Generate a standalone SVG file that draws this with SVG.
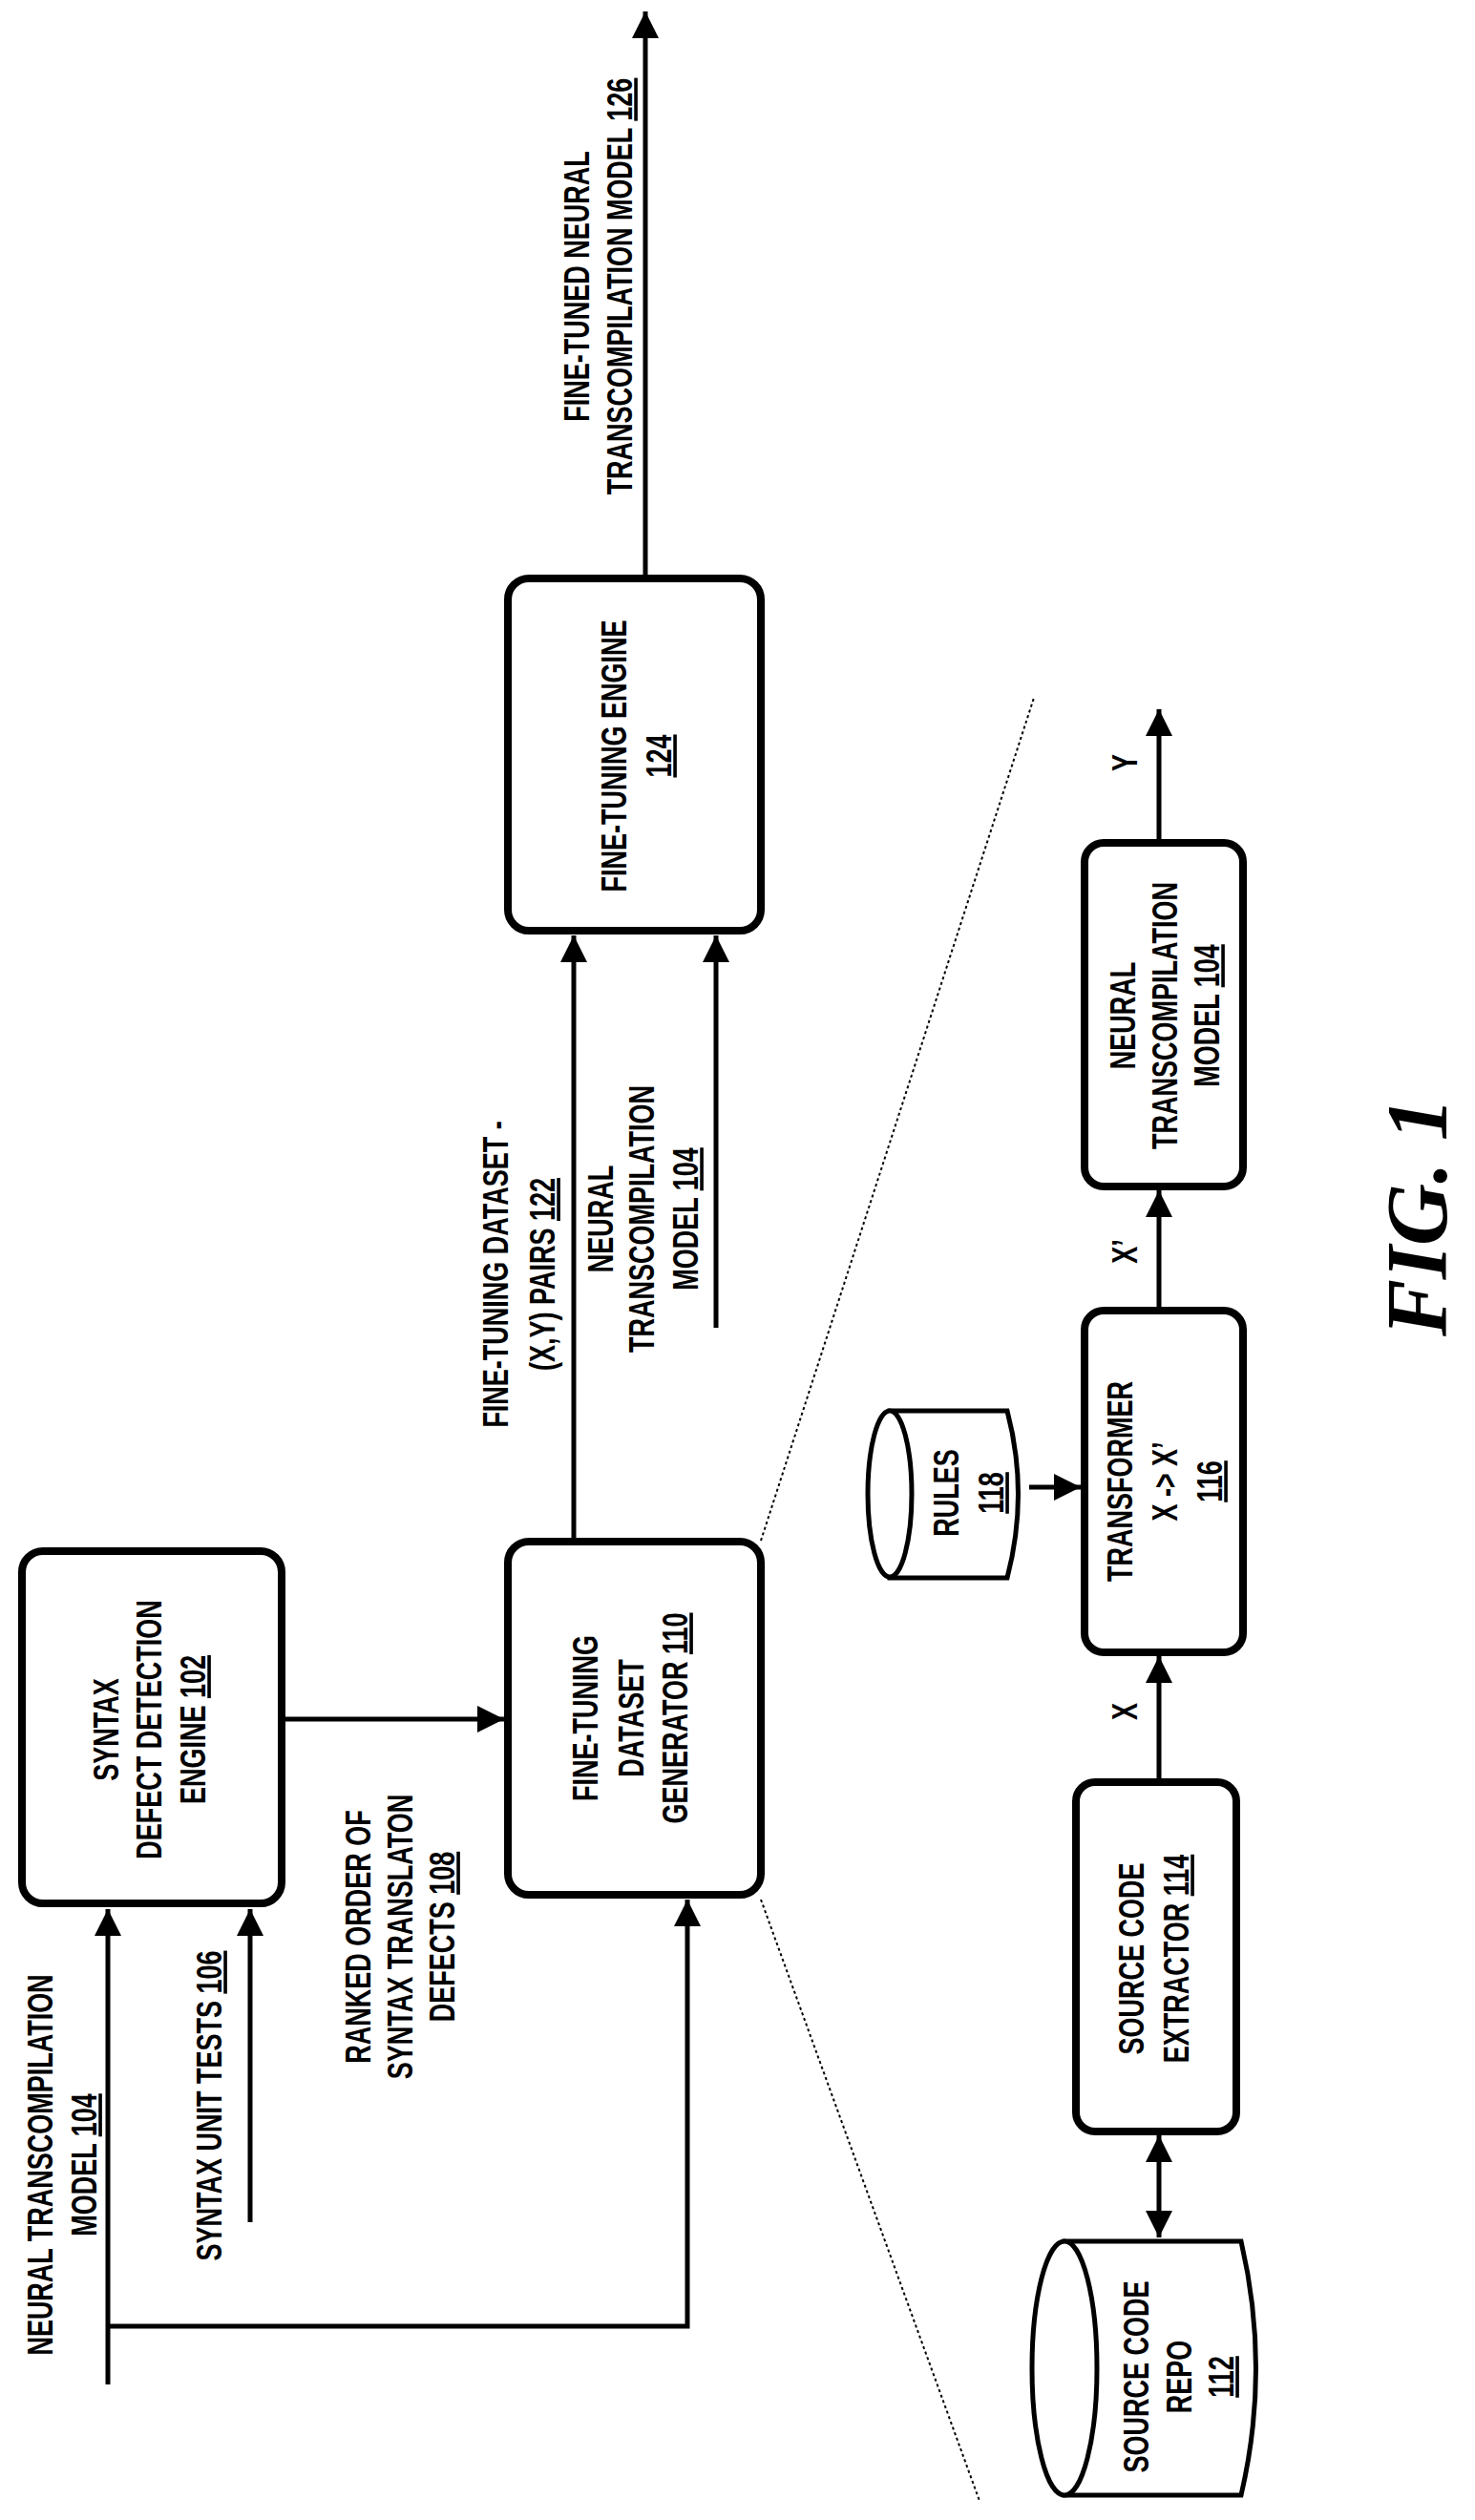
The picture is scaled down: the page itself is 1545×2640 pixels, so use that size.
<svg xmlns="http://www.w3.org/2000/svg" width="1545" height="2640" viewBox="0 0 1545 2640">
<defs>
<style>
.t{font-family:"Liberation Sans",Arial,sans-serif;font-weight:bold;font-size:36px;fill:#000;text-anchor:middle}
.u{text-decoration:underline}
.box{fill:#fff;stroke:#000;stroke-width:8}
.ln{fill:none;stroke:#000;stroke-width:5}
.dot{fill:none;stroke:#000;stroke-width:2;stroke-dasharray:3 3}
.fig{font-family:"Liberation Serif",serif;font-style:italic;font-weight:bold;font-size:90px;text-anchor:middle}
</style>
<marker id="ah" viewBox="0 0 10 10" refX="10" refY="5" markerWidth="30" markerHeight="28" markerUnits="userSpaceOnUse" orient="auto-start-reverse"><path d="M0,0L10,5L0,10z" fill="#000"/></marker>
</defs>
<g id="connectors">
<line class="ln" x1="113" y1="2498" x2="113" y2="2000" marker-end="url(#ah)"/>
<polyline class="ln" points="113,2437 720,2437 720,1990" marker-end="url(#ah)"/>
<line class="ln" x1="262" y1="2328" x2="262" y2="2000" marker-end="url(#ah)"/>
<line class="ln" x1="299" y1="1801" x2="528" y2="1801" marker-end="url(#ah)"/>
<line class="ln" x1="601" y1="1615" x2="601" y2="980" marker-end="url(#ah)"/>
<line class="ln" x1="750" y1="1391" x2="750" y2="980" marker-end="url(#ah)"/>
<line class="ln" x1="676" y1="606" x2="676" y2="12" marker-end="url(#ah)"/>
<line class="dot" x1="797" y1="1614" x2="1083" y2="731"/>
<line class="dot" x1="797" y1="1990" x2="1026" y2="2620"/>
<line class="ln" x1="1214" y1="2344" x2="1214" y2="2237" marker-start="url(#ah)" marker-end="url(#ah)"/>
<line class="ln" x1="1214" y1="1867" x2="1214" y2="1735" marker-end="url(#ah)"/>
<line class="ln" x1="1214" y1="1373" x2="1214" y2="1247" marker-end="url(#ah)"/>
<line class="ln" x1="1214" y1="883" x2="1214" y2="743" marker-end="url(#ah)"/>
<line class="ln" x1="1078" y1="1558" x2="1132" y2="1558" marker-end="url(#ah)"/>
</g>
<g id="n102"><rect class="box" x="23" y="1625" width="272" height="369" rx="22"/>
<text class="t" transform="translate(124,1812) rotate(-90) scale(0.75,1)">SYNTAX</text>
<text class="t" transform="translate(169,1812) rotate(-90) scale(0.75,1)">DEFECT DETECTION</text>
<text class="t" transform="translate(215,1812) rotate(-90) scale(0.75,1)">ENGINE <tspan class="u">102</tspan></text></g>
<g id="n110"><rect class="box" x="532" y="1615" width="265" height="370" rx="22"/>
<text class="t" transform="translate(626,1800) rotate(-90) scale(0.75,1)">FINE-TUNING</text>
<text class="t" transform="translate(674,1800) rotate(-90) scale(0.75,1)">DATASET</text>
<text class="t" transform="translate(720,1800) rotate(-90) scale(0.75,1)">GENERATOR <tspan class="u">110</tspan></text></g>
<g id="n124"><rect class="box" x="532" y="606" width="265" height="369" rx="22"/>
<text class="t" transform="translate(656,792) rotate(-90) scale(0.75,1)">FINE-TUNING ENGINE</text>
<text class="t" transform="translate(703,792) rotate(-90) scale(0.75,1)"><tspan class="u">124</tspan></text></g>
<g id="labels">
<text class="t" transform="translate(55,2268) rotate(-90) scale(0.75,1)">NEURAL TRANSCOMPILATION</text>
<text class="t" transform="translate(101,2268) rotate(-90) scale(0.75,1)">MODEL <tspan class="u">104</tspan></text>
<text class="t" transform="translate(232,2206) rotate(-90) scale(0.75,1)">SYNTAX UNIT TESTS <tspan class="u">106</tspan></text>
<text class="t" transform="translate(388,2029) rotate(-90) scale(0.75,1)">RANKED ORDER OF</text>
<text class="t" transform="translate(432,2029) rotate(-90) scale(0.75,1)">SYNTAX TRANSLATON</text>
<text class="t" transform="translate(476,2029) rotate(-90) scale(0.75,1)">DEFECTS <tspan class="u">108</tspan></text>
<text class="t" transform="translate(532,1335) rotate(-90) scale(0.75,1)">FINE-TUNING DATASET -</text>
<text class="t" transform="translate(581,1335) rotate(-90) scale(0.75,1)">(X,Y) PAIRS  <tspan class="u">122</tspan></text>
<text class="t" transform="translate(642,1277) rotate(-90) scale(0.75,1)">NEURAL</text>
<text class="t" transform="translate(685,1277) rotate(-90) scale(0.75,1)">TRANSCOMPILATION</text>
<text class="t" transform="translate(731,1277) rotate(-90) scale(0.75,1)">MODEL <tspan class="u">104</tspan></text>
<text class="t" transform="translate(617,300) rotate(-90) scale(0.75,1)">FINE-TUNED NEURAL</text>
<text class="t" transform="translate(662,300) rotate(-90) scale(0.75,1)">TRANSCOMPILATION MODEL <tspan class="u">126</tspan></text>
<text class="t" transform="translate(1191,1793) rotate(-90) scale(0.75,1)">X</text>
<text class="t" transform="translate(1191,1311) rotate(-90) scale(0.75,1)">X’</text>
<text class="t" transform="translate(1191,799) rotate(-90) scale(0.75,1)">Y</text>
</g>
<g id="n112">
<path class="box" d="M1115,2348 H1300 Q1331,2481 1300,2614 H1115 Z" style="stroke-width:5"/>
<ellipse class="box" cx="1115" cy="2481" rx="34" ry="133" style="stroke-width:5"/>
<text class="t" transform="translate(1203,2490) rotate(-90) scale(0.75,1)">SOURCE CODE</text>
<text class="t" transform="translate(1248,2490) rotate(-90) scale(0.75,1)">REPO</text>
<text class="t" transform="translate(1292,2490) rotate(-90) scale(0.75,1)"><tspan class="u">112</tspan></text></g>
<g id="n114"><rect class="box" x="1127" y="1867" width="168" height="366" rx="20"/>
<text class="t" transform="translate(1198,2052) rotate(-90) scale(0.75,1)">SOURCE CODE</text>
<text class="t" transform="translate(1245,2052) rotate(-90) scale(0.75,1)">EXTRACTOR <tspan class="u">114</tspan></text></g>
<g id="n116"><rect class="box" x="1136" y="1373" width="166" height="358" rx="20"/>
<text class="t" transform="translate(1186,1552) rotate(-90) scale(0.75,1)">TRANSFORMER</text>
<text class="t" transform="translate(1233,1552) rotate(-90) scale(0.75,1)">X -&gt; X’</text>
<text class="t" transform="translate(1280,1552) rotate(-90) scale(0.75,1)"><tspan class="u">116</tspan></text></g>
<g id="n118">
<path class="box" d="M932,1478 H1055 Q1078,1565 1055,1653 H932 Z" style="stroke-width:5"/>
<ellipse class="box" cx="932" cy="1565" rx="23" ry="87" style="stroke-width:5"/>
<text class="t" transform="translate(1004,1564) rotate(-90) scale(0.75,1)">RULES</text>
<text class="t" transform="translate(1051,1564) rotate(-90) scale(0.75,1)"><tspan class="u">118</tspan></text></g>
<g id="n104b"><rect class="box" x="1136" y="883" width="166" height="360" rx="20"/>
<text class="t" transform="translate(1189,1064) rotate(-90) scale(0.75,1)">NEURAL</text>
<text class="t" transform="translate(1233,1064) rotate(-90) scale(0.75,1)">TRANSCOMPILATION</text>
<text class="t" transform="translate(1277,1064) rotate(-90) scale(0.75,1)">MODEL <tspan class="u">104</tspan></text></g>
<text class="fig" transform="translate(1515,1275) rotate(-90)">FIG. 1</text>
</svg>
